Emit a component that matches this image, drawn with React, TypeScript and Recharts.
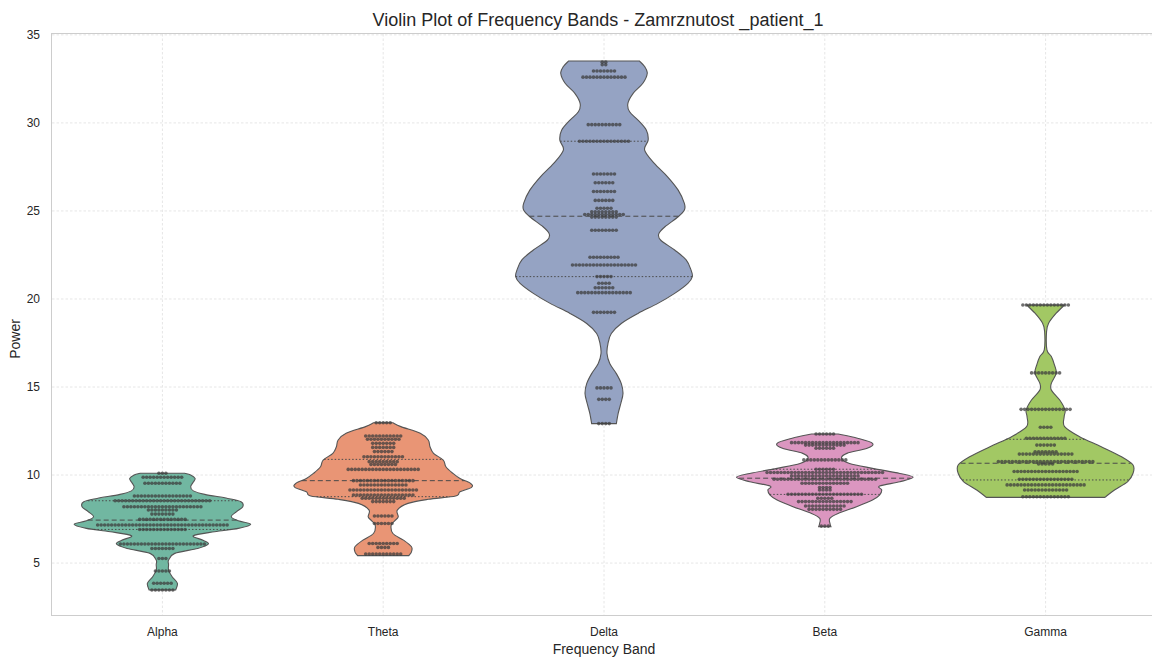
import React from "react";
import { CartesianGrid, ComposedChart, Scatter, XAxis, YAxis } from "recharts";

const bands = ["Alpha", "Theta", "Delta", "Beta", "Gamma"];
const bandColors = ["#71b7a1", "#e99575", "#95a3c3", "#db96c0", "#a2c864"];
const xTicks = [0.5, 1.5, 2.5, 3.5, 4.5];
const yTicks = [5, 10, 15, 20, 25, 30, 35];

// violin outline: [power, relative half width]
const alphaShape: [number, number][] = [
  [3.47, 0.15], [3.85, 0.17], [4.22, 0.11], [4.6, 0.07], [4.9, 0.07], [5.17, 0.07], [5.55, 0.14], [5.83, 0.4],
  [6.08, 0.52], [6.3, 0.46], [6.55, 0.35], [6.78, 0.59], [6.97, 0.86], [7.2, 1.0], [7.4, 0.86], [7.63, 0.78],
  [7.92, 0.84], [8.2, 0.91], [8.48, 0.89], [8.67, 0.74], [8.9, 0.48], [9.1, 0.35], [9.34, 0.32], [9.6, 0.35],
  [9.81, 0.37], [10.0, 0.32], [10.1, 0.25],
];
const thetaShape: [number, number][] = [
  [5.42, 0.29], [5.64, 0.32], [5.93, 0.32], [6.3, 0.23], [6.68, 0.11], [7.15, 0.09], [7.4, 0.13], [7.63, 0.17],
  [8.01, 0.16], [8.39, 0.28], [8.62, 0.51], [8.81, 0.82], [9.05, 0.87], [9.3, 1.0], [9.52, 0.99], [9.8, 0.87],
  [10.09, 0.79], [10.47, 0.71], [10.85, 0.68], [11.23, 0.57], [11.61, 0.53], [11.99, 0.51], [12.37, 0.42],
  [12.75, 0.2], [12.97, 0.11],
];
const deltaShape: [number, number][] = [
  [12.92, 0.14], [13.49, 0.16], [14.06, 0.19], [14.63, 0.215], [15.19, 0.196], [15.76, 0.14], [16.33, 0.065],
  [16.9, 0.034], [17.47, 0.045], [18.04, 0.083], [18.61, 0.196], [19.18, 0.385], [19.75, 0.61], [20.32, 0.8],
  [20.89, 0.95], [21.27, 1.0], [21.65, 0.985], [22.22, 0.93], [22.78, 0.8], [23.35, 0.64], [23.7, 0.62],
  [24.1, 0.69], [24.67, 0.84], [25.05, 0.91], [25.43, 0.91], [26.18, 0.84], [26.94, 0.72], [27.7, 0.57],
  [28.46, 0.46], [29.02, 0.5], [29.59, 0.48], [30.16, 0.385], [30.63, 0.29], [31.1, 0.27], [31.68, 0.33],
  [32.25, 0.44], [32.82, 0.49], [33.2, 0.46], [33.52, 0.4],
];
const betaShape: [number, number][] = [
  [7.06, 0.07], [7.22, 0.06], [7.54, 0.057], [7.82, 0.15], [8.2, 0.36], [8.58, 0.54], [8.86, 0.62], [9.15, 0.645],
  [9.37, 0.62], [9.62, 0.85], [9.87, 1.0], [10.09, 0.85], [10.38, 0.54], [10.66, 0.28], [10.95, 0.19],
  [11.23, 0.25], [11.52, 0.48], [11.8, 0.54], [12.09, 0.37], [12.33, 0.15],
];
const gammaShape: [number, number][] = [
  [8.73, 0.67], [9.15, 0.78], [9.63, 0.93], [10.1, 0.99], [10.57, 0.99], [11.04, 0.86], [11.61, 0.63],
  [12.18, 0.385], [12.75, 0.215], [13.31, 0.21], [13.69, 0.22], [14.26, 0.16], [14.83, 0.065], [15.21, 0.065],
  [15.78, 0.12], [16.26, 0.1], [16.73, 0.065], [17.11, 0.015], [18.15, 0.011], [18.62, 0.034], [19.19, 0.12],
  [19.66, 0.215],
];

// swarm points: [power, number of points at that level]
const alphaRows: [number, number][] = [
  [10.1, 3], [9.87, 12], [9.53, 11], [8.81, 17], [8.54, 28], [8.2, 23], [8.01, 9], [7.78, 7], [7.48, 14],
  [7.16, 38], [6.91, 14], [6.08, 25], [5.83, 7], [5.26, 3], [4.55, 5], [3.85, 6], [3.47, 7],
];
const thetaRows: [number, number][] = [
  [12.97, 5], [12.22, 11], [12.03, 10], [11.8, 7], [11.57, 7], [11.33, 6], [11.04, 12], [10.76, 9], [10.6, 8],
  [10.32, 21], [9.68, 18], [9.43, 14], [9.15, 20], [8.87, 18], [8.68, 13], [8.49, 7], [7.67, 6], [7.25, 6],
  [6.11, 9], [5.89, 4], [5.51, 11],
];
const deltaRows: [number, number][] = [
  [33.45, 2], [33.3, 2], [32.95, 7], [32.6, 13], [29.9, 10], [28.96, 15], [27.1, 7], [26.6, 6], [26.1, 7],
  [25.6, 6], [25.15, 5], [24.95, 8], [24.8, 12], [24.65, 8], [23.9, 8], [22.37, 9], [21.93, 19], [21.27, 5],
  [20.89, 4], [20.64, 6], [20.36, 16], [19.24, 7], [14.95, 5], [14.3, 4], [12.92, 4],
];
const betaRows: [number, number][] = [
  [12.33, 6], [11.84, 20], [11.7, 12], [11.52, 6], [10.86, 13], [10.33, 6], [10.14, 34], [9.95, 20], [9.76, 30],
  [9.53, 14], [9.29, 4], [9.15, 4], [8.91, 22], [8.68, 5], [8.49, 16], [8.24, 12], [8.05, 10], [7.1, 3],
];
const gammaRows: [number, number][] = [
  [19.66, 14], [15.8, 9], [13.73, 15], [12.71, 4], [12.09, 12], [11.7, 6], [11.32, 7], [11.19, 16], [10.76, 28],
  [10.63, 5], [10.2, 19], [9.76, 16], [9.44, 23], [9.15, 13], [8.77, 14],
];

// inner lines: [q1, median, q3]
const alphaQuart = [6.91, 7.44, 8.54];
const thetaQuart = [8.77, 9.68, 10.89];
const deltaQuart = [21.27, 24.7, 28.96];
const betaQuart = [8.9, 9.82, 10.33];
const gammaQuart = [9.72, 10.67, 12.03];

const shapes = [alphaShape, thetaShape, deltaShape, betaShape, gammaShape];
const rows = [alphaRows, thetaRows, deltaRows, betaRows, gammaRows];
const quarts = [alphaQuart, thetaQuart, deltaQuart, betaQuart, gammaQuart];

const FONT = "'Liberation Sans', Arial, sans-serif";
const CHART_W = 1160;
const CHART_H = 657;
const UNIT_PX = 1104 / 5;
const MAX_HALF = 0.4;
const DOT_GAP = 3.5 / UNIT_PX;

function outlinePoints(shape: [number, number][], i: number) {
  const c = i + 0.5;
  const right = shape.map(([p, w]) => ({ x: c + w * MAX_HALF, y: p }));
  const left = [...shape].reverse().map(([p, w]) => ({ x: c - w * MAX_HALF, y: p }));
  return [...right, ...left];
}

function swarmPoints(list: [number, number][], i: number) {
  const c = i + 0.5;
  const pts: { x: number; y: number }[] = [];
  list.forEach(([p, n]) => {
    for (let k = 0; k < n; k++) pts.push({ x: c + (k - (n - 1) / 2) * DOT_GAP, y: p });
  });
  return pts;
}

function halfWidthAt(shape: [number, number][], p: number) {
  for (let k = 0; k < shape.length - 1; k++) {
    const [p0, w0] = shape[k];
    const [p1, w1] = shape[k + 1];
    if (p >= p0 && p <= p1) return (w0 + ((p - p0) / (p1 - p0)) * (w1 - w0)) * MAX_HALF;
  }
  return 0;
}

type Pt = { x: number; y: number };

function smooth(pts: Pt[]) {
  let d = "";
  for (let k = 0; k < pts.length - 1; k++) {
    const p0 = pts[k - 1] || pts[k];
    const p1 = pts[k];
    const p2 = pts[k + 1];
    const p3 = pts[k + 2] || p2;
    const c1x = p1.x + (p2.x - p0.x) / 6;
    const c1y = p1.y + (p2.y - p0.y) / 6;
    const c2x = p2.x - (p3.x - p1.x) / 6;
    const c2y = p2.y - (p3.y - p1.y) / 6;
    d += ` C${c1x},${c1y} ${c2x},${c2y} ${p2.x},${p2.y}`;
  }
  return d;
}

function violinLine(color: string) {
  return (props: any) => {
    const pts: Pt[] = props.points || [];
    if (!pts.length) return <g />;
    const n = pts.length / 2;
    const right = pts.slice(0, n);
    const left = pts.slice(n);
    const d = `M${right[0].x},${right[0].y}` + smooth(right) + ` L${left[0].x},${left[0].y}` + smooth(left) + " Z";
    return <path d={d} fill={color} stroke="#555555" strokeWidth={1.1} />;
  };
}

function quartLine(dash: string) {
  return (props: any) => {
    const pts: Pt[] = props.points || [];
    if (pts.length < 2) return <g />;
    return <line x1={pts[0].x} y1={pts[0].y} x2={pts[1].x} y2={pts[1].y} stroke="#4a4a4a" strokeWidth={1} strokeDasharray={dash} />;
  };
}

const hiddenDot = () => <g />;
const swarmDot = (props: any) => <circle cx={props.cx} cy={props.cy} r={1.8} fill="#3d3d3d" fillOpacity={0.75} />;

const tickStyle = { fontFamily: FONT, fontSize: 12, fill: "#262626" };

export default function App() {
  return (
    <div style={{ position: "fixed", left: 0, top: 0, width: 1152, height: 657, overflow: "hidden", background: "#fff" }}>
      <div style={{ position: "absolute", left: 298, top: 9, width: 600, textAlign: "center", fontFamily: FONT, fontSize: 18, lineHeight: "22px", color: "#262626" }}>
        Violin Plot of Frequency Bands - Zamrznutost _patient_1
      </div>
      <div style={{ position: "absolute", left: 504, top: 640, width: 200, textAlign: "center", fontFamily: FONT, fontSize: 14, lineHeight: "18px", color: "#262626" }}>
        Frequency Band
      </div>
      <div style={{ position: "absolute", left: -35, top: 330, width: 100, textAlign: "center", fontFamily: FONT, fontSize: 14, lineHeight: "18px", color: "#262626", transform: "rotate(-90deg)" }}>
        Power
      </div>
      <ComposedChart width={CHART_W} height={CHART_H} margin={{ top: 34, right: 4, left: 0, bottom: 0 }}>
        <CartesianGrid stroke="#e6e6e6" strokeDasharray="2.5 2" verticalValues={xTicks} horizontalValues={yTicks} />
        <XAxis
          type="number"
          dataKey="x"
          domain={[0, 5]}
          ticks={xTicks}
          tickFormatter={(v: number) => bands[Math.round(v - 0.5)]}
          allowDataOverflow
          height={42}
          tickLine={false}
          tickMargin={6}
          axisLine={false}
          tick={tickStyle}
        />
        <YAxis
          type="number"
          dataKey="y"
          domain={[2.05, 35.05]}
          ticks={yTicks}
          allowDataOverflow
          width={52}
          tickLine={false}
          tickMargin={6}
          axisLine={false}
          tick={tickStyle}
        />
        {shapes.map((shape, i) => (
          <Scatter
            key={`violin-${bands[i]}`}
            data={outlinePoints(shape, i)}
            shape={hiddenDot}
            line={violinLine(bandColors[i])}
            lineType="joint"
            isAnimationActive={false}
          />
        ))}
        {quarts.map((q, i) =>
          q.map((p, j) => {
            const hw = halfWidthAt(shapes[i], p);
            return (
              <Scatter
                key={`q-${i}-${j}`}
                data={[{ x: i + 0.5 - hw, y: p }, { x: i + 0.5 + hw, y: p }]}
                shape={hiddenDot}
                line={quartLine(j === 1 ? "5 3" : "1.5 2")}
                lineType="joint"
                isAnimationActive={false}
              />
            );
          })
        )}
        {rows.map((list, i) => (
          <Scatter key={`swarm-${bands[i]}`} data={swarmPoints(list, i)} shape={swarmDot} isAnimationActive={false} />
        ))}
      </ComposedChart>
      <div style={{ position: "absolute", left: 51, top: 33, width: 1106, height: 583, border: "1.5px solid #cdcdcd", boxSizing: "border-box", pointerEvents: "none" }} />
    </div>
  );
}
